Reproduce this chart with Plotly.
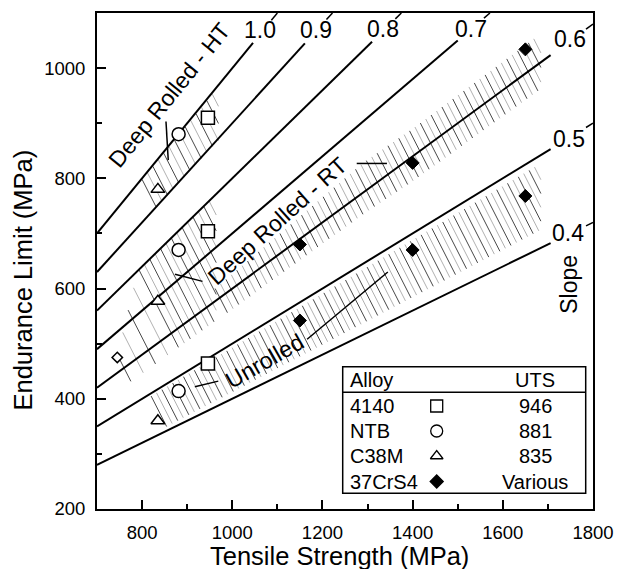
import numpy as np
import plotly.graph_objects as go

W, H = 618, 569
ML, MR, MT, MB = 97, 25, 13, 60
X_RANGE = [700, 1800]
Y_RANGE = [200, 1100]
FONT = "Liberation Sans, Arial, sans-serif"

# ---- slope lines (Endurance = slope * UTS) ----
slopes = [1.0, 0.9, 0.8, 0.7, 0.6, 0.5, 0.4]
slope_labels = ["1.0", "0.9", "0.8", "0.7", "0.6", "0.5", "0.4"]
line_x_end = [1046, 1161, 1310, 1500, 1706, 1706, 1706]
label_x = [1062, 1186, 1335, 1530, 1750, 1746, 1745]
label_y = [1069, 1069, 1071, 1071, 1053, 872, 701]

# ---- data points ----
sq_x = [946, 946, 946]
sq_y = [910, 704, 464]
ci_x = [881, 881, 881]
ci_y = [880, 670, 414]
tr_x = [835, 835, 835]
tr_y = [780, 577, 360]
di_x = [1150, 1150, 1400, 1400, 1650, 1650]
di_y = [680, 542, 828, 670, 1034, 768]
small_x = [745]
small_y = [475]

# ---- hatched bands (x, lower, upper) ----
ht_x = [800, 965]
ht_lo = [722, 866]
ht_hi = [798, 962]
rta_x = [745, 790, 960]
rta_lo = [415, 440, 540]
rta_hi = [480, 632, 768]
rtb_x = [962, 1290, 1400, 1680]
rtb_lo = [540, 735, 795, 960]
rtb_hi = [600, 828, 890, 1060]
un_x = [820, 1680]
un_lo = [335, 705]
un_hi = [405, 825]

# ---- legend table ----
alloys = ["4140", "NTB", "C38M", "37CrS4"]
uts = ["946", "881", "835", "Various"]
leg_symbols = ["square-open", "circle-open", "triangle-up-open", "diamond"]
leg_sizes = [12, 12, 11, 10]

PW = W - ML - MR
PH = H - MT - MB
SX = PW / (X_RANGE[1] - X_RANGE[0])
SY = PH / (Y_RANGE[1] - Y_RANGE[0])


def xpx(X):
    return ML + (np.asarray(X, float) - X_RANGE[0]) * SX


def ypx(Y):
    return MT + (Y_RANGE[1] - np.asarray(Y, float)) * SY


def xdat(p):
    return X_RANGE[0] + (np.asarray(p, float) - ML) / SX


def ydat(p):
    return Y_RANGE[1] - (np.asarray(p, float) - MT) / SY


def band_strokes(bx, blo, bhi, spacing=5.4, ang=63):
    c, s = np.cos(np.radians(ang)), np.sin(np.radians(ang))
    p0, p1 = float(xpx(bx[0])), float(xpx(bx[-1]))
    starts = np.arange(p0, p1, spacing)
    out = [([], []), ([], [])]
    ts = np.linspace(0, 250, 2501)
    for i, p in enumerate(starts):
        yh = float(ypx(np.interp(xdat(p), bx, bhi)))
        xs = p + ts * c
        ys = yh + ts * s
        ylo = ypx(np.interp(xdat(xs), bx, blo))
        hit = np.nonzero(ys >= ylo)[0]
        if len(hit) == 0:
            continue
        k = hit[0]
        xe = min(xs[k], p1 + 2)
        ye = yh + (xe - p) / c * s
        tgt = out[i % 2]
        tgt[0].extend([float(xdat(p)), float(xdat(xe)), None])
        tgt[1].extend([float(ydat(yh)), float(ydat(ye)), None])
    return out


fig = go.Figure()

# hatch
for bx, blo, bhi in [(ht_x, ht_lo, ht_hi), (rta_x, rta_lo, rta_hi),
                     (rtb_x, rtb_lo, rtb_hi), (un_x, un_lo, un_hi)]:
    blk, gry = band_strokes(bx, blo, bhi)
    fig.add_trace(go.Scatter(x=blk[0], y=blk[1], mode="lines",
                             line=dict(color="#333333", width=0.9), hoverinfo="skip"))
    fig.add_trace(go.Scatter(x=gry[0], y=gry[1], mode="lines",
                             line=dict(color="#a8a8a8", width=0.9), hoverinfo="skip"))

# slope lines
for s, xe in zip(slopes, line_x_end):
    fig.add_trace(go.Scatter(x=[X_RANGE[0], xe], y=[s * X_RANGE[0], s * xe], mode="lines",
                             line=dict(color="black", width=2), hoverinfo="skip"))
    # little mark where the line meets the frame
    xf = min(Y_RANGE[1] / s, X_RANGE[1])
    xb = xf - 7 / SX if xf == X_RANGE[1] else xf - 6 / SX
    fig.add_trace(go.Scatter(x=[xb, xf], y=[s * xb, s * xf], mode="lines",
                             line=dict(color="black", width=1.5), hoverinfo="skip"))

# data markers
mk_line = dict(color="black", width=1.5)
fig.add_trace(go.Scatter(x=sq_x, y=sq_y, mode="markers",
                         marker=dict(symbol="square", size=13, color="white", line=mk_line)))
fig.add_trace(go.Scatter(x=ci_x, y=ci_y, mode="markers",
                         marker=dict(symbol="circle", size=13, color="white", line=mk_line)))
fig.add_trace(go.Scatter(x=tr_x, y=tr_y, mode="markers",
                         marker=dict(symbol="triangle-up", size=12, color="white", line=mk_line)))
fig.add_trace(go.Scatter(x=di_x, y=di_y, mode="markers",
                         marker=dict(symbol="diamond", size=10, color="black", line=dict(color="black", width=1))))
fig.add_trace(go.Scatter(x=small_x, y=small_y, mode="markers",
                         marker=dict(symbol="diamond", size=8, color="white", line=mk_line)))

annotations = []
for t, lx, ly in zip(slope_labels, label_x, label_y):
    annotations.append(dict(x=lx, y=ly, text=t, showarrow=False,
                            font=dict(size=23, color="black", family=FONT)))

for txt, ax_, ay_, ang in [("Deep Rolled - HT", 860, 952, -51),
                           ("Deep Rolled - RT", 1100, 722, -42),
                           ("Unrolled", 1072, 468, -30),
                           ("Slope", 1747, 607, -90)]:
    annotations.append(dict(x=ax_, y=ay_, text=txt, showarrow=False, textangle=ang,
                            font=dict(size=23, color="black", family=FONT)))

shapes = []
leaders = [((853, 903), (858, 833)),
           ((1276, 827), (1343, 827)),
           ((873, 626), (934, 613)),
           ((917, 422), (969, 432)),
           ((1166, 508), (1345, 630))]
for (x0, y0), (x1, y1) in leaders:
    shapes.append(dict(type="line", x0=x0, y0=y0, x1=x1, y1=y1,
                       line=dict(color="black", width=1.5)))

# legend table
bx0, bx1 = float(xdat(342.7)), float(xdat(585.7))
by0, by1 = float(ydat(493.3)), float(ydat(366.7))
bsep = float(ydat(392.3))
shapes.append(dict(type="rect", x0=bx0, x1=bx1, y0=by0, y1=by1,
                   line=dict(color="black", width=1.5), fillcolor="rgba(0,0,0,0)", layer="above"))
shapes.append(dict(type="line", x0=bx0, x1=bx1, y0=bsep, y1=bsep,
                   line=dict(color="black", width=1.5), layer="above"))
col_name = float(xdat(347.5))
col_sym = float(xdat(436.7))
col_uts = float(xdat(535))
row_head = float(ydat(380))
row_y = [float(ydat(p)) for p in [406, 431, 456, 481.5]]
LF = dict(size=20, color="black", family=FONT)
annotations.append(dict(x=col_name, y=row_head, text="Alloy", showarrow=False, xanchor="left", font=LF))
annotations.append(dict(x=col_uts, y=row_head, text="UTS", showarrow=False, font=LF))
for a, u, ry in zip(alloys, uts, row_y):
    annotations.append(dict(x=col_name, y=ry, text=a, showarrow=False, xanchor="left", font=LF))
    annotations.append(dict(x=col_uts, y=ry, text=u, showarrow=False, font=LF))
for sym, sz, ry in zip(leg_symbols, leg_sizes, row_y):
    fig.add_trace(go.Scatter(x=[col_sym], y=[ry], mode="markers",
                             marker=dict(symbol=sym, size=sz, color="black",
                                         line=dict(color="black", width=1.3))))

# axis titles
annotations.append(dict(xref="paper", yref="paper", x=(339 - ML) / PW, y=(H - MB - 556) / PH,
                        text="Tensile Strength (MPa)", showarrow=False, yanchor="middle",
                        font=dict(size=25.5, color="black", family=FONT)))
annotations.append(dict(xref="paper", yref="paper", x=(22 - ML) / PW, y=(H - MB - 280.5) / PH,
                        text="Endurance Limit (MPa)", showarrow=False, textangle=-90,
                        xanchor="center", yanchor="middle",
                        font=dict(size=25.5, color="black", family=FONT)))

axis_common = dict(showgrid=False, zeroline=False, showline=True, linewidth=2, linecolor="black",
                   mirror=True, ticks="inside", ticklen=9, tickwidth=1.5, tickcolor="black",
                   tickfont=dict(size=18.5, color="black", family=FONT),
                   minor=dict(ticks="inside", ticklen=5, tickwidth=1.5, tickcolor="black", dtick=100))

fig.update_layout(
    width=W, height=H, margin=dict(l=ML, r=MR, t=MT, b=MB, autoexpand=False),
    paper_bgcolor="white", plot_bgcolor="white", showlegend=False,
    xaxis=dict(range=X_RANGE, tickvals=[800, 1000, 1200, 1400, 1600, 1800],
               ticklabelstandoff=6, **axis_common),
    yaxis=dict(range=Y_RANGE, tickvals=[200, 400, 600, 800, 1000],
               ticklabelstandoff=6, **axis_common),
    annotations=annotations, shapes=shapes,
)
fig.write_html("out.html")
